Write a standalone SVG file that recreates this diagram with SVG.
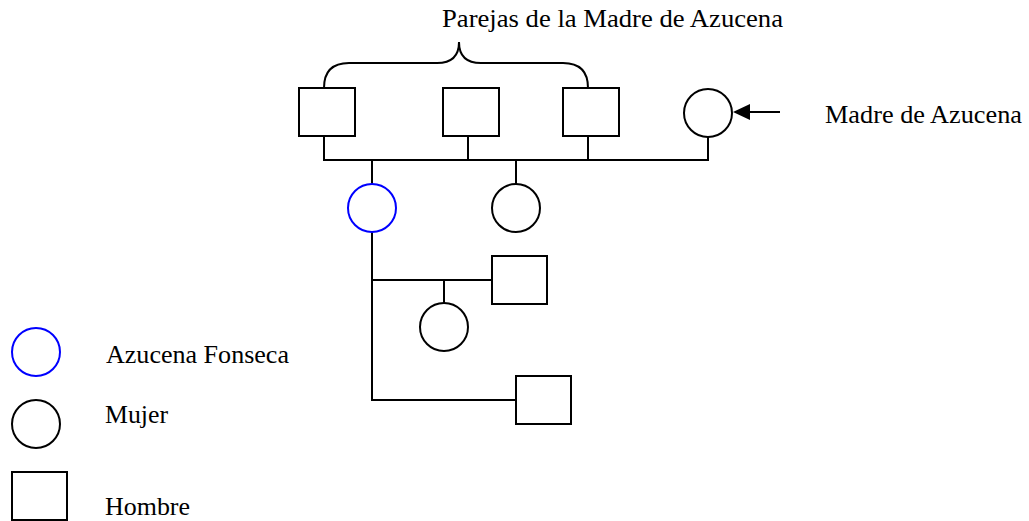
<svg xmlns="http://www.w3.org/2000/svg" width="1029" height="521" viewBox="0 0 1029 521">
<style>
.n{fill:#fff;stroke:#000;stroke-width:2}
.b{fill:#fff;stroke:#0000ff;stroke-width:2}
.c{fill:none;stroke:#000;stroke-width:2}
text{font-family:"Liberation Serif","Times New Roman",serif;font-size:25px;fill:#000}
</style>
<g id="connectors">
<path class="c" d="M324,88 Q324,63 349,63 L437,63 Q459,63 459,42 Q459,63 481,63 L563,63 Q588,63 588,88"/>
<path class="c" d="M324,136 V160 M468,136 V160 M588,136 V160 M708,137 V160 M323,160 H709"/>
<path class="c" d="M372,160 V184 M516,160 V184"/>
<path class="c" d="M372,232 V400 H516 M372,280 H492 M444,280 V303"/>
<path class="c" d="M780,112 H748"/>
<path d="M733,112 L750,104 L750,120 Z" fill="#000"/>
</g>
<g id="pareja1"><rect class="n" x="299" y="88" width="56" height="48"/></g>
<g id="pareja2"><rect class="n" x="443" y="88" width="56" height="48"/></g>
<g id="pareja3"><rect class="n" x="563" y="88" width="56" height="48"/></g>
<g id="madre"><circle class="n" cx="708" cy="113" r="24"/></g>
<g id="azucena"><circle class="b" cx="372" cy="208" r="24"/></g>
<g id="hermana"><circle class="n" cx="516" cy="208" r="24"/></g>
<g id="pareja_azucena"><rect class="n" x="492" y="256" width="55" height="48"/></g>
<g id="hija"><circle class="n" cx="444" cy="327" r="24"/></g>
<g id="hijo"><rect class="n" x="516" y="376" width="55" height="48"/></g>
<g id="labels">
<text x="442" y="27" textLength="341" lengthAdjust="spacingAndGlyphs">Parejas de la Madre de Azucena</text>
<text x="825" y="123" textLength="197" lengthAdjust="spacingAndGlyphs">Madre de Azucena</text>
</g>
<g id="legend">
<circle class="b" cx="36" cy="352" r="24"/>
<circle class="n" cx="36" cy="424" r="24"/>
<rect class="n" x="12" y="472" width="55" height="48"/>
<text x="106" y="363" textLength="183" lengthAdjust="spacingAndGlyphs">Azucena Fonseca</text>
<text x="105" y="423" textLength="63" lengthAdjust="spacingAndGlyphs">Mujer</text>
<text x="105" y="515" textLength="85" lengthAdjust="spacingAndGlyphs">Hombre</text>
</g>
</svg>
